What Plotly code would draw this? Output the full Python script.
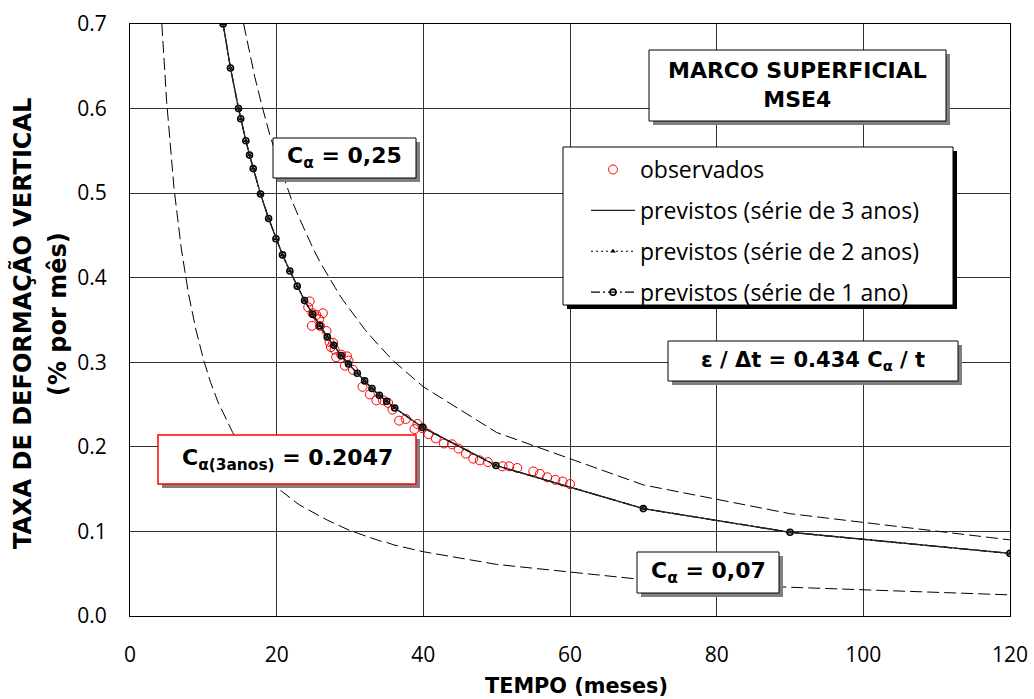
import plotly.graph_objects as go

# ---------------- data ----------------
obs_t = [24.3, 24.5, 24.8, 24.9, 25.4, 25.8, 25.9, 26.3, 26.8, 27.2, 27.4, 27.7, 27.9,
         28.1, 28.8, 29.3, 29.6, 29.8, 30.4, 31.7, 32.7, 33.6, 34.5, 35.2, 35.8, 36.7,
         37.6, 38.8, 39.2, 39.9, 40.7, 41.7, 42.8, 43.9, 44.8, 45.8, 46.8, 47.7, 48.8,
         50.8, 51.7, 52.8, 55.0, 55.9, 56.9, 58.0, 59.0, 60.0]
obs_v = [0.365, 0.372, 0.343, 0.358, 0.356, 0.351, 0.343, 0.358, 0.337, 0.324, 0.318, 0.323, 0.315,
         0.306, 0.309, 0.296, 0.307, 0.302, 0.291, 0.271, 0.262, 0.255, 0.255, 0.252, 0.244, 0.231,
         0.233, 0.221, 0.227, 0.222, 0.215, 0.210, 0.204, 0.203, 0.198, 0.192, 0.186, 0.184, 0.182,
         0.177, 0.177, 0.175, 0.171, 0.168, 0.164, 0.161, 0.159, 0.156]

prev_t = [12.7, 13.7, 14.8, 15.1, 15.8, 16.3, 16.8, 17.8, 18.9, 19.9, 20.8, 21.8, 22.8, 23.8,
          24.9, 25.9, 26.9, 27.8, 28.8, 29.8, 31.0, 32.0, 33.0, 34.0, 35.0, 36.1, 39.9, 49.9,
          70, 90, 120]
prev_3anos = [0.700, 0.648, 0.600, 0.588, 0.562, 0.545, 0.529, 0.499, 0.470, 0.446, 0.427, 0.408,
              0.390, 0.373, 0.357, 0.343, 0.330, 0.320, 0.308, 0.298, 0.287, 0.278, 0.269, 0.261,
              0.254, 0.246, 0.223, 0.178, 0.127, 0.099, 0.074]
prev_2anos = [0.700, 0.648, 0.600, 0.588, 0.562, 0.545, 0.529, 0.499, 0.470, 0.446, 0.427, 0.408,
              0.390, 0.373, 0.357, 0.343, 0.330, 0.320, 0.308, 0.298, 0.287, 0.278, 0.269, 0.261,
              0.254, 0.246, 0.223, 0.178, 0.127, 0.099, 0.074]
prev_1ano = [0.700, 0.648, 0.600, 0.588, 0.562, 0.545, 0.529, 0.499, 0.470, 0.446, 0.427, 0.408,
             0.390, 0.373, 0.357, 0.343, 0.330, 0.320, 0.308, 0.298, 0.287, 0.278, 0.269, 0.261,
             0.254, 0.246, 0.223, 0.178, 0.127, 0.099, 0.074]

c025_t = [15.5, 16, 17, 18, 19, 20, 21, 22, 23, 24, 25, 26, 27, 28, 29, 30, 31, 32, 33, 34,
          35, 36, 40, 50, 70, 90, 120]
c025_v = [0.700, 0.678, 0.638, 0.603, 0.571, 0.543, 0.517, 0.493, 0.472, 0.452, 0.434, 0.417,
          0.402, 0.388, 0.374, 0.362, 0.350, 0.339, 0.329, 0.319, 0.310, 0.301, 0.271, 0.217,
          0.155, 0.121, 0.090]

c007_t = [4.34, 5, 6, 7, 8, 9, 10, 11, 12, 13, 14, 15, 16, 17, 18, 19, 20, 21, 22, 23, 24, 25,
          26, 27, 28, 29, 30, 31, 32, 33, 34, 35, 36, 40, 50, 70, 90, 120]
c007_v = [0.700, 0.608, 0.506, 0.434, 0.380, 0.338, 0.304, 0.276, 0.253, 0.234, 0.217, 0.203,
          0.190, 0.179, 0.169, 0.160, 0.152, 0.145, 0.138, 0.132, 0.127, 0.122, 0.117, 0.113,
          0.109, 0.105, 0.101, 0.098, 0.095, 0.092, 0.089, 0.087, 0.084, 0.076, 0.061, 0.043,
          0.034, 0.025]

x_ticks = [0, 20, 40, 60, 80, 100, 120]
y_ticks = [0.0, 0.1, 0.2, 0.3, 0.4, 0.5, 0.6, 0.7]
y_tick_text = ["0.0", "0.1", "0.2", "0.3", "0.4", "0.5", "0.6", "0.7"]

legend_names = ["observados", "previstos (série de 3 anos)",
                "previstos (série de 2 anos)", "previstos (série de 1 ano)"]

# ---------------- layout geometry (pixels) ----------------
W, H = 1034, 699
L, R, T, B = 130, 1010, 24, 616


def px(x, y):
    return (x - L) / (R - L), (B - y) / (B - T)


fig = go.Figure()

DASH = "12px,5px"
fig.add_trace(go.Scatter(x=c025_t, y=c025_v, mode="lines", showlegend=False,
                         line=dict(color="black", width=1, dash=DASH), hoverinfo="skip"))
fig.add_trace(go.Scatter(x=c007_t, y=c007_v, mode="lines", showlegend=False,
                         line=dict(color="black", width=1, dash=DASH), hoverinfo="skip"))

fig.add_trace(go.Scatter(x=obs_t, y=obs_v, mode="markers", name=legend_names[0],
                         legendgroup="g0", legendrank=1,
                         marker=dict(symbol="circle-open", size=9, color="red",
                                     line=dict(width=1, color="red"))))
fig.add_trace(go.Scatter(x=prev_t, y=prev_1ano, mode="lines+markers", name=legend_names[3],
                         legendgroup="g3", legendrank=4,
                         line=dict(color="black", width=1.2, dash="9px,3px,2px,3px"),
                         marker=dict(symbol="circle-open", size=6, color="black",
                                     line=dict(width=1.6, color="black"))))
fig.add_trace(go.Scatter(x=prev_t, y=prev_2anos, mode="lines+markers", name=legend_names[2],
                         legendgroup="g2", legendrank=3,
                         line=dict(color="black", width=1.2, dash="2px,3px"),
                         marker=dict(symbol="triangle-up", size=5, color="black")))
fig.add_trace(go.Scatter(x=prev_t, y=prev_3anos, mode="lines", name=legend_names[1],
                         legendgroup="g1", legendrank=2,
                         line=dict(color="#222222", width=1.3)))

shapes = []
annotations = []


def box(x0, y0, x1, y1, text, font, border="black", bw=1, shadow="#808080", off=4):
    a0, b1 = px(x0, y0)
    a1, b0 = px(x1, y1)
    s0, sb1 = px(x0 + off, y0 + off)
    s1, sb0 = px(x1 + off, y1 + off)
    shapes.append(dict(type="rect", xref="paper", yref="paper", x0=s0, x1=s1, y0=sb0, y1=sb1,
                       fillcolor=shadow, line=dict(width=0), layer="above"))
    shapes.append(dict(type="rect", xref="paper", yref="paper", x0=a0, x1=a1, y0=b0, y1=b1,
                       fillcolor="white", line=dict(width=bw, color=border), layer="above"))
    if text:
        cx, cy = px((x0 + x1) / 2, (y0 + y1) / 2)
        annotations.append(dict(xref="paper", yref="paper", x=cx, y=cy, text=text,
                                showarrow=False, xanchor="center", yanchor="middle",
                                font=font, align="center"))


BOXFONT = dict(family="DejaVu Sans", size=22, color="black")
box(649, 50, 946, 121, "<b>MARCO SUPERFICIAL<br>MSE4</b>", BOXFONT)
box(273, 138, 416, 178, "<b>C<sub>α</sub> = 0,25</b>", BOXFONT)
box(668, 341, 958, 381, "<b>ε / Δt = 0.434 C<sub>α</sub> / t</b>", dict(BOXFONT, size=21))
box(158, 435, 416, 484, "<b>C<sub>α(3anos)</sub> = 0.2047</b>", BOXFONT, border="red", bw=1.5)
box(637, 552, 779, 593, "<b>C<sub>α</sub> = 0,07</b>", BOXFONT)
# legend frame
box(563, 147, 953, 305, "", None, shadow="black", off=4)

# axis titles
cx, cy = px(576, 686)
annotations.append(dict(xref="paper", yref="paper", x=cx, y=cy, text="<b>TEMPO (meses)</b>",
                        showarrow=False, xanchor="center", yanchor="middle",
                        font=dict(family="DejaVu Sans", size=20.8, color="black")))
YT = dict(family="DejaVu Sans", size=24, color="black")
cx, cy = px(22, 324)
annotations.append(dict(xref="paper", yref="paper", x=cx, y=cy,
                        text="<b>TAXA DE DEFORMAÇÃO VERTICAL</b>", textangle=-90,
                        showarrow=False, xanchor="center", yanchor="middle", font=YT))
cx, cy = px(58, 314)
annotations.append(dict(xref="paper", yref="paper", x=cx, y=cy,
                        text="<b>(% por mês)</b>", textangle=-90,
                        showarrow=False, xanchor="center", yanchor="middle", font=YT))

lx, ly = px(586, 148)
fig.update_layout(
    width=W, height=H, autosize=False,
    margin=dict(l=L, r=W - R, t=T, b=H - B, pad=0, autoexpand=False),
    paper_bgcolor="white", plot_bgcolor="white",
    showlegend=True,
    legend=dict(x=lx, y=ly, xanchor="left", yanchor="top", bgcolor="rgba(0,0,0,0)",
                borderwidth=0, font=dict(family="Open Sans", size=23, color="black"),
                tracegroupgap=8, itemwidth=44, traceorder="grouped"),
    shapes=shapes, annotations=annotations,
    xaxis=dict(range=[0, 120], tickvals=x_ticks, showgrid=True, gridcolor="#333333", gridwidth=1,
               showline=True, linecolor="black", linewidth=1, mirror=True, zeroline=False,
               ticks="", ticklabelstandoff=20, automargin=False,
               tickfont=dict(family="Open Sans", size=21, color="black")),
    yaxis=dict(range=[0, 0.7], tickvals=y_ticks, ticktext=y_tick_text, showgrid=True,
               gridcolor="#333333", gridwidth=1, showline=True, linecolor="black", linewidth=1,
               mirror=True, zeroline=False, ticks="", ticklabelstandoff=18, automargin=False,
               tickfont=dict(family="Open Sans", size=21, color="black")),
)

fig.write_html("out.html", config={"responsive": False})
